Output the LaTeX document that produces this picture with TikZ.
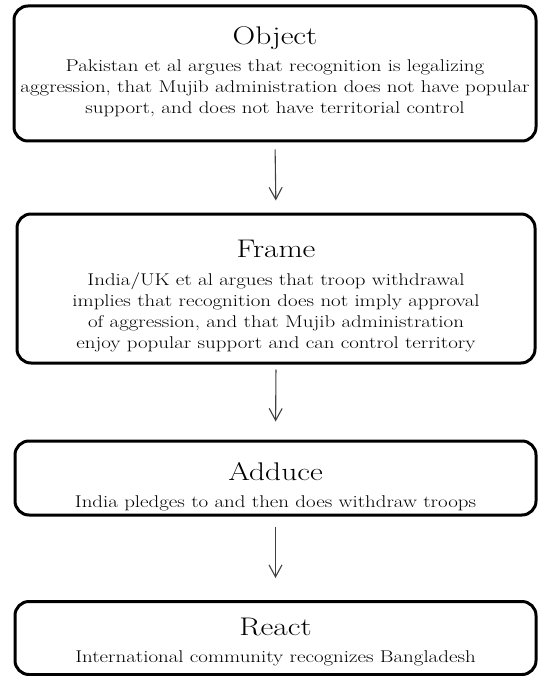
\documentclass[tikz,border=0pt]{standalone}
\usepackage{fontspec}
\setmainfont{Latin Modern Roman}[FakeStretch=1.23]
\usetikzlibrary{arrows.meta}
\begin{document}
\begin{tikzpicture}[x=1pt,y=-1pt,
  box/.style={draw, line width=3pt, rounded corners=14pt, inner sep=0pt, minimum width=#1},
  txt/.style={align=center, inner sep=0pt, font=\fontsize{17}{21}\selectfont},
  ttl/.style={},
  arr/.style={draw=black!75, line width=1.1pt, -{Straight Barb[length=12pt,width=13pt]}}]
\useasboundingbox (0,0) rectangle (538,676);
% boxes
\node[box=522pt, minimum height=135pt] (obj) at (275,73.5) {};
\node[box=518pt, minimum height=149pt] (frm) at (276,288.5) {};
\node[box=521pt, minimum height=74pt] (add) at (275.5,478) {};
\node[box=521pt, minimum height=73pt] (rea) at (275.5,638) {};
% texts
\node[txt] (objT) at (275,72) {{\fontsize{25.5}{25}\selectfont Object}\\[6pt]
  Pakistan et al argues that recognition is legalizing\\
  aggression, that Mujib administration does not have popular\\
  support, and does not have territorial control};
\node[txt] (frmT) at (276,296) {{\fontsize{25.5}{25}\selectfont Frame}\\[7pt]
  India/UK et al argues that troop withdrawal\\
  implies that recognition does not imply approval\\
  of aggression, and that Mujib administration\\
  enjoy popular support and can control territory};
\node[txt] (addT) at (275.5,487) {{\fontsize{25.5}{25}\selectfont Adduce}\\[6pt]
  India pledges to and then does withdraw troops};
\node[txt] (reaT) at (275.5,642) {{\fontsize{25.5}{25}\selectfont React}\\[6pt]
  International community recognizes Bangladesh};
% arrows
\draw[arr, shorten <=7pt, shorten >=12pt] (obj.south) -- (frm.north);
\draw[arr, shorten <=5pt, shorten >=18pt] (frm.south) -- (add.north);
\draw[arr, shorten <=10pt, shorten >=22pt] (add.south) -- (rea.north);
\end{tikzpicture}
\end{document}
